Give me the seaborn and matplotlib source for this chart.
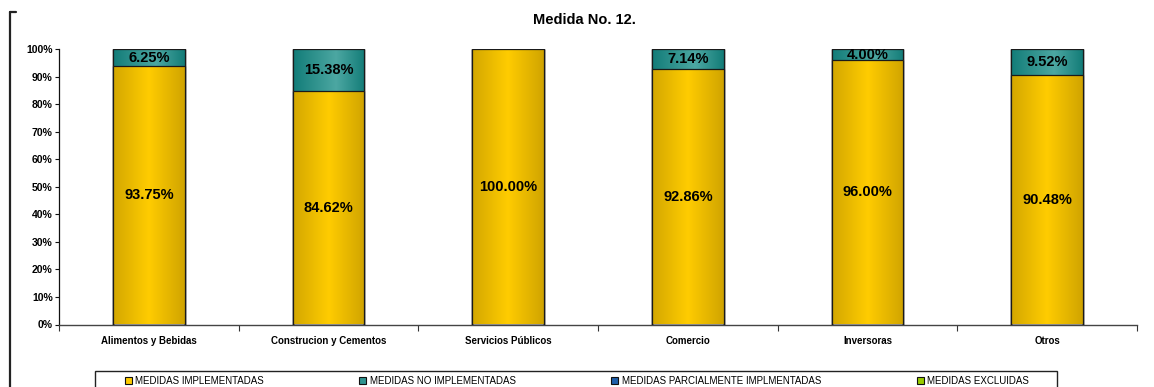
"""
Medida No. 12 - stacked percentage bars per sector
"""

import matplotlib.pyplot as plt
import numpy as np
import seaborn as sns
from matplotlib.colors import LinearSegmentedColormap
from matplotlib.lines import Line2D
from matplotlib.patches import Patch, Rectangle

# data
categories = [
    "Alimentos y Bebidas",
    "Construcion y Cementos",
    "Servicios Públicos",
    "Comercio",
    "Inversoras",
    "Otros",
]
implementadas = [93.75, 84.62, 100.00, 92.86, 96.00, 90.48]
no_implementadas = [6.25, 15.38, 0.00, 7.14, 4.00, 9.52]
parcialmente = [0, 0, 0, 0, 0, 0]
excluidas = [0, 0, 0, 0, 0, 0]

series_names = [
    "MEDIDAS IMPLEMENTADAS",
    "MEDIDAS NO IMPLEMENTADAS",
    "MEDIDAS PARCIALMENTE IMPLMENTADAS",
    "MEDIDAS EXCLUIDAS",
]
series_colors = ["#FFCC00", "#2E9490", "#1F5FAA", "#99CC00"]
y_ticks = [0, 10, 20, 30, 40, 50, 60, 70, 80, 90, 100]

# horizontal shading inside the bars (dark edges, light middle)
gradients = [
    LinearSegmentedColormap.from_list("yel", [(0, "#D3A700"), (0.5, "#FFCC00"), (1, "#D0A400")]),
    LinearSegmentedColormap.from_list("tea", [(0, "#127C78"), (0.6, "#4CA7A2"), (1, "#137C78")]),
    LinearSegmentedColormap.from_list("blu", [(0, "#164C8C"), (0.5, "#2F6FBF"), (1, "#164C8C")]),
    LinearSegmentedColormap.from_list("gre", [(0, "#7DA800"), (0.5, "#A8D800"), (1, "#7DA800")]),
]

sns.set_style("white")
plt.rcParams["font.family"] = ["Liberation Sans", "DejaVu Sans"]
plt.rcParams["text.color"] = "black"
plt.rcParams["xtick.color"] = "black"
plt.rcParams["ytick.color"] = "black"

W, H = 1154, 387
fig = plt.figure(figsize=(W / 100, H / 100), dpi=100)
ax = fig.add_axes([59 / W, 1 - 324.5 / H, (1137 - 59) / W, (324.5 - 49) / H])

# cumulative tops, drawn back to front so the lower segments sit on top
stack = np.cumsum([implementadas, no_implementadas, parcialmente, excluidas], axis=0)

for k in range(3, -1, -1):
    z = 2 + (3 - k) * 3
    sns.barplot(
        x=categories,
        y=stack[k],
        color=series_colors[k],
        saturation=1,
        width=0.4,
        edgecolor="#1a1a1a",
        linewidth=0.9,
        zorder=z,
        ax=ax,
    )
    for p in ax.containers[-1]:
        if p.get_height() <= 0:
            continue
        x0, y0 = p.get_x(), p.get_y()
        img = ax.imshow(
            np.linspace(0, 1, 256)[None, :],
            cmap=gradients[k],
            aspect="auto",
            origin="lower",
            interpolation="bilinear",
            extent=(x0, x0 + p.get_width(), y0, y0 + p.get_height()),
            zorder=z + 1,
        )
        img.set_clip_path(p)
        p.set_facecolor("none")
        p.set_zorder(z + 2)

ax.set_xlim(-0.5, len(categories) - 0.5)
ax.set_ylim(0, 100)

# value labels
for i in range(len(categories)):
    if implementadas[i] > 0:
        ax.text(i, implementadas[i] / 2, f"{implementadas[i]:.2f}%", ha="center",
                va="center", fontsize=10.5, fontweight="bold", color="black", zorder=30)
    if no_implementadas[i] > 0:
        ax.text(i, implementadas[i] + no_implementadas[i] / 2, f"{no_implementadas[i]:.2f}%",
                ha="center", va="center", fontsize=10.5, fontweight="bold", color="black",
                zorder=30)

# axes styling
ax.set_yticks(y_ticks)
ax.set_yticklabels([f"{v}%" for v in y_ticks])
ax.set_xticks(np.arange(len(categories) + 1) - 0.5, minor=True)
ax.tick_params(axis="x", which="major", bottom=True, length=0, pad=8, labelsize=7,
               labelcolor="black")
ax.tick_params(axis="x", which="minor", bottom=True, length=4, width=0.8, color="#333333")
ax.tick_params(axis="y", left=True, length=3, width=0.8, pad=1.5, labelsize=7.5,
               color="#111111", labelcolor="black")
for lab in ax.get_xticklabels() + ax.get_yticklabels():
    lab.set_fontweight("bold")
ax.set_xlabel("")
ax.set_ylabel("")
sns.despine(ax=ax)
ax.spines["left"].set_color("#111111")
ax.spines["left"].set_linewidth(0.9)
ax.spines["bottom"].set_color("#444444")
ax.spines["bottom"].set_linewidth(1.0)

fig.text(584 / W, 1 - 20 / H, "Medida No. 12.", ha="center", va="center",
         fontsize=10.5, fontweight="bold", color="black")

# cropped chart-area border on the left
fig.add_artist(Line2D([10 / W, 10 / W], [1 - 12 / H, 0], transform=fig.transFigure,
                      color="#222222", lw=1.6))
fig.add_artist(Line2D([10 / W, 16 / W], [1 - 12 / H, 1 - 12 / H], transform=fig.transFigure,
                      color="#222222", lw=1.6))

# legend box, cut by the bottom edge
fig.add_artist(Rectangle((95 / W, -0.05), (1057 - 95) / W, 0.05 + 1 - 371 / H,
                         transform=fig.transFigure, fill=False, ec="#222222", lw=1.0))
handles = [Patch(facecolor=c, edgecolor="#111111", linewidth=0.8) for c in series_colors]
fig.legend(handles, series_names, loc="center", bbox_to_anchor=(577 / W, 1 - 381 / H),
           ncol=4, frameon=False, fontsize=7, handlelength=0.7, handleheight=0.7,
           handletextpad=0.4, columnspacing=9.8, borderpad=0, labelcolor="black")

fig.savefig("out.png", dpi=100)
